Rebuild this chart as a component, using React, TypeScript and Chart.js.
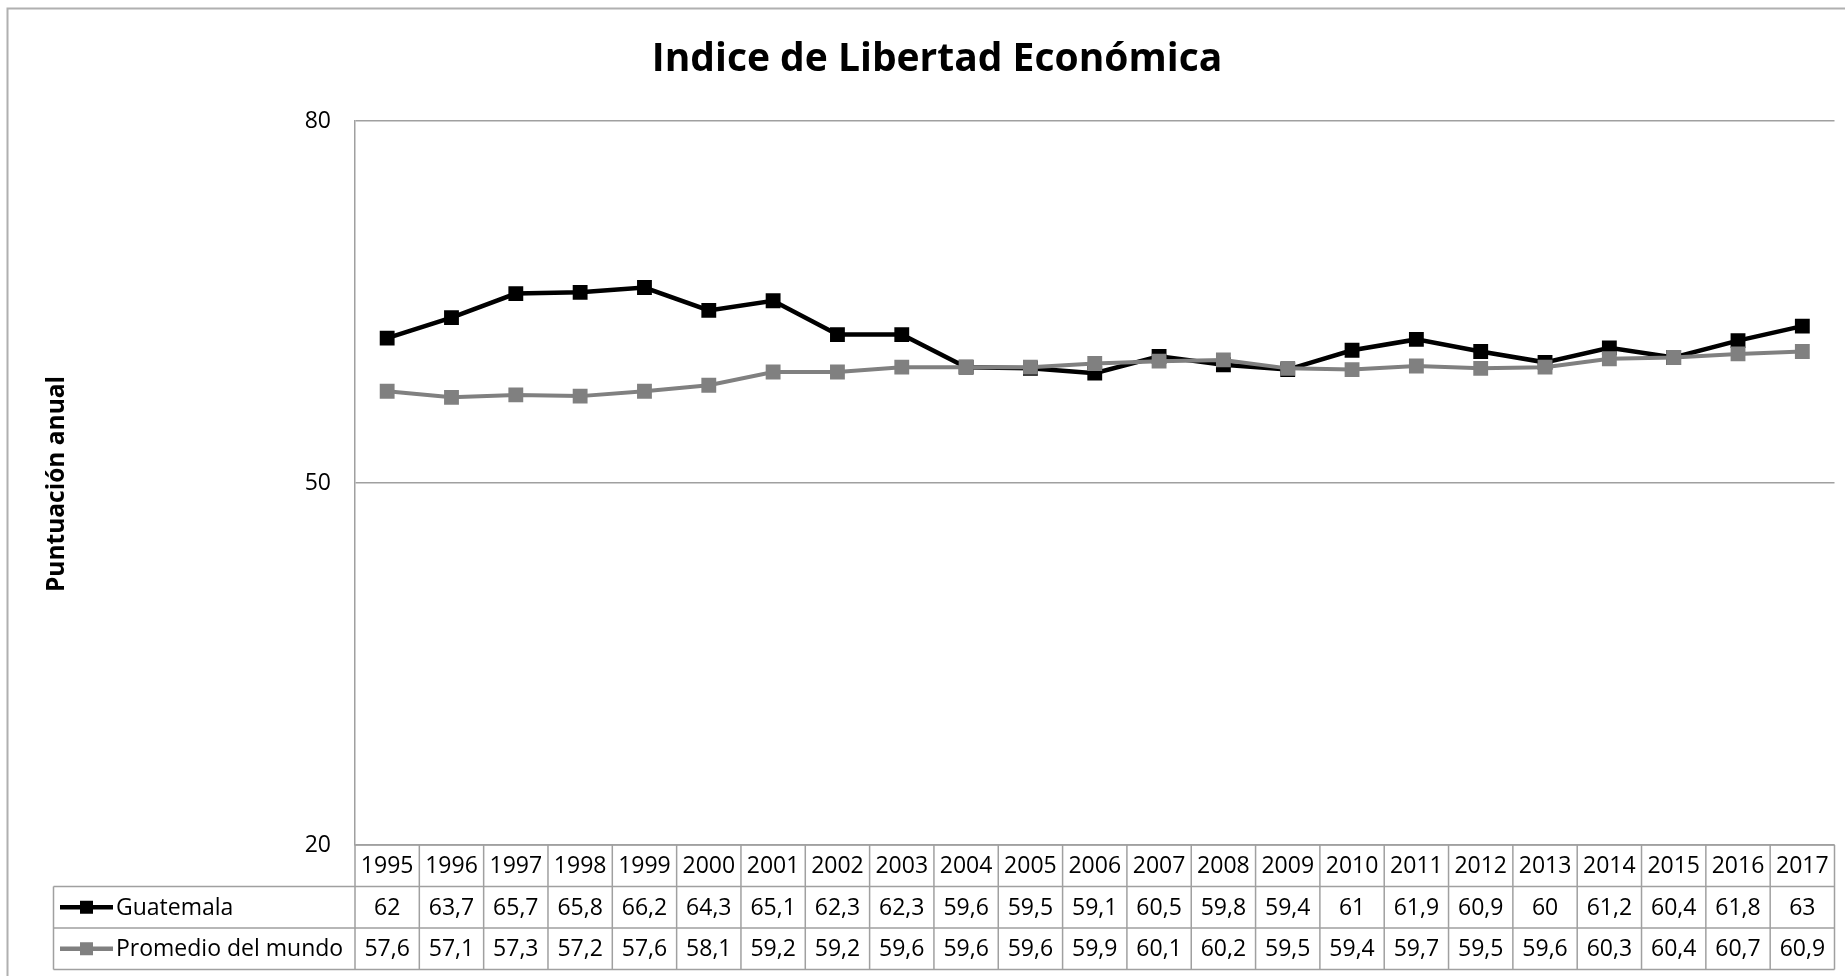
import React, { useEffect, useRef } from "react";
import { Chart, registerables } from "chart.js";

Chart.register(...registerables);

const years = ["1995","1996","1997","1998","1999","2000","2001","2002","2003","2004","2005","2006","2007","2008","2009","2010","2011","2012","2013","2014","2015","2016","2017"];
const guatemala = [62, 63.7, 65.7, 65.8, 66.2, 64.3, 65.1, 62.3, 62.3, 59.6, 59.5, 59.1, 60.5, 59.8, 59.4, 61, 61.9, 60.9, 60, 61.2, 60.4, 61.8, 63];
const promedio = [57.6, 57.1, 57.3, 57.2, 57.6, 58.1, 59.2, 59.2, 59.6, 59.6, 59.6, 59.9, 60.1, 60.2, 59.5, 59.4, 59.7, 59.5, 59.6, 60.3, 60.4, 60.7, 60.9];
const seriesNames = ["Guatemala", "Promedio del mundo"];
const seriesColors = ["#000000", "#808080"];
const yTicks = [20, 50, 80];
const chartTitle = "Indice de Libertad Económica";
const yTitle = "Puntuación anual";

const FONT = '"Open Sans", "DejaVu Sans", sans-serif';
const GRID = "#a0a0a0";

const fmt = (v: number) => String(v).replace(".", ",");

const tablePlugin = {
  id: "tablePlugin",
  afterDraw(chart: any) {
    const ctx = chart.ctx as CanvasRenderingContext2D;
    const xs = chart.scales.x;
    const area = chart.chartArea;
    const W = chart.width;
    const H = chart.height;
    ctx.save();

    // outer border
    ctx.strokeStyle = "#b0b0b0";
    ctx.lineWidth = 2;
    ctx.beginPath();
    ctx.moveTo(7.5, H);
    ctx.lineTo(7.5, 8.5);
    ctx.lineTo(W, 8.5);
    ctx.stroke();

    // title
    ctx.fillStyle = "#000";
    ctx.font = `bold 39px ${FONT}`;
    ctx.textAlign = "center";
    ctx.textBaseline = "middle";
    ctx.fillText(chartTitle, 937, 60);

    // y title
    ctx.save();
    ctx.translate(57, 484);
    ctx.rotate(-Math.PI / 2);
    ctx.font = `bold 24.5px ${FONT}`;
    ctx.fillText(yTitle, 0, 0);
    ctx.restore();

    // table
    const n = years.length;
    const half = (xs.getPixelForValue(1) - xs.getPixelForValue(0)) / 2;
    const rowH = 41.5;
    const top = area.bottom;
    const r1 = top + rowH;
    const r2 = r1 + rowH;
    const r3 = r2 + rowH;
    const legendLeft = 53.5;
    ctx.strokeStyle = GRID;
    ctx.lineWidth = 1.5;
    ctx.beginPath();
    ctx.moveTo(area.left, top); ctx.lineTo(area.right, top);
    ctx.moveTo(legendLeft, r1); ctx.lineTo(area.right, r1);
    ctx.moveTo(legendLeft, r2); ctx.lineTo(area.right, r2);
    ctx.moveTo(legendLeft, r3); ctx.lineTo(area.right, r3);
    ctx.moveTo(legendLeft, r1); ctx.lineTo(legendLeft, r3);
    for (let i = 0; i <= n; i++) {
      const x = i < n ? xs.getPixelForValue(i) - half : xs.getPixelForValue(n - 1) + half;
      ctx.moveTo(x, top); ctx.lineTo(x, r3);
    }
    ctx.stroke();

    ctx.fillStyle = "#000";
    ctx.font = `23px ${FONT}`;
    ctx.textAlign = "center";
    ctx.textBaseline = "middle";
    const rows = [guatemala, promedio];
    for (let i = 0; i < n; i++) {
      const cx = xs.getPixelForValue(i);
      ctx.fillText(years[i], cx, (top + r1) / 2 + 1);
      ctx.fillText(fmt(rows[0][i]), cx, (r1 + r2) / 2 + 1);
      ctx.fillText(fmt(rows[1][i]), cx, (r2 + r3) / 2 + 1);
    }
    const rowCenters = [(r1 + r2) / 2, (r2 + r3) / 2];
    for (let s = 0; s < 2; s++) {
      const cy = rowCenters[s];
      ctx.strokeStyle = seriesColors[s];
      ctx.lineWidth = 4.5;
      ctx.beginPath();
      ctx.moveTo(60, cy); ctx.lineTo(113, cy);
      ctx.stroke();
      ctx.fillStyle = seriesColors[s];
      ctx.fillRect(80, cy - 6.5, 13, 13);
      ctx.fillStyle = "#000";
      ctx.textAlign = "left";
      ctx.fillText(seriesNames[s], 116, cy + 1);
    }
    ctx.restore();
  },
};

export default function App() {
  const ref = useRef<HTMLCanvasElement>(null);
  useEffect(() => {
    document.body.style.margin = "0";
    const canvas = ref.current!;
    const chart = new Chart(canvas, {
      type: "line",
      data: {
        labels: years,
        datasets: [
          {
            label: seriesNames[0],
            data: guatemala,
            borderColor: seriesColors[0],
            backgroundColor: seriesColors[0],
            borderWidth: 4.5,
            pointStyle: "rect",
            pointRadius: 10.5,
            pointBorderWidth: 0,
            tension: 0,
            order: 1,
          },
          {
            label: seriesNames[1],
            data: promedio,
            borderColor: seriesColors[1],
            backgroundColor: seriesColors[1],
            borderWidth: 4,
            pointStyle: "rect",
            pointRadius: 10.5,
            pointBorderWidth: 0,
            tension: 0,
            order: 0,
          },
        ],
      },
      options: {
        responsive: false,
        animation: false,
        layout: { padding: { left: 0, top: 121, right: 8, bottom: 131 } },
        plugins: {
          legend: { display: false },
          title: { display: false },
          tooltip: { enabled: false },
        },
        scales: {
          x: {
            display: false,
            offset: true,
          },
          y: {
            min: 20,
            max: 80,
            afterFit: (scale: any) => { scale.width = 355; },
            afterBuildTicks: (scale: any) => { scale.ticks = yTicks.map((v) => ({ value: v })); },
            ticks: {
              color: "#000",
              font: { family: FONT, size: 23 },
              padding: 24,
            },
            grid: { color: GRID, lineWidth: 1.5, drawTicks: false },
            border: { display: true, color: GRID, width: 1.5 },
          },
        },
      },
      plugins: [tablePlugin],
    });
    return () => chart.destroy();
  }, []);
  return <canvas ref={ref} width={1845} height={976} style={{ display: "block", width: 1845, height: 976 }} />;
}
